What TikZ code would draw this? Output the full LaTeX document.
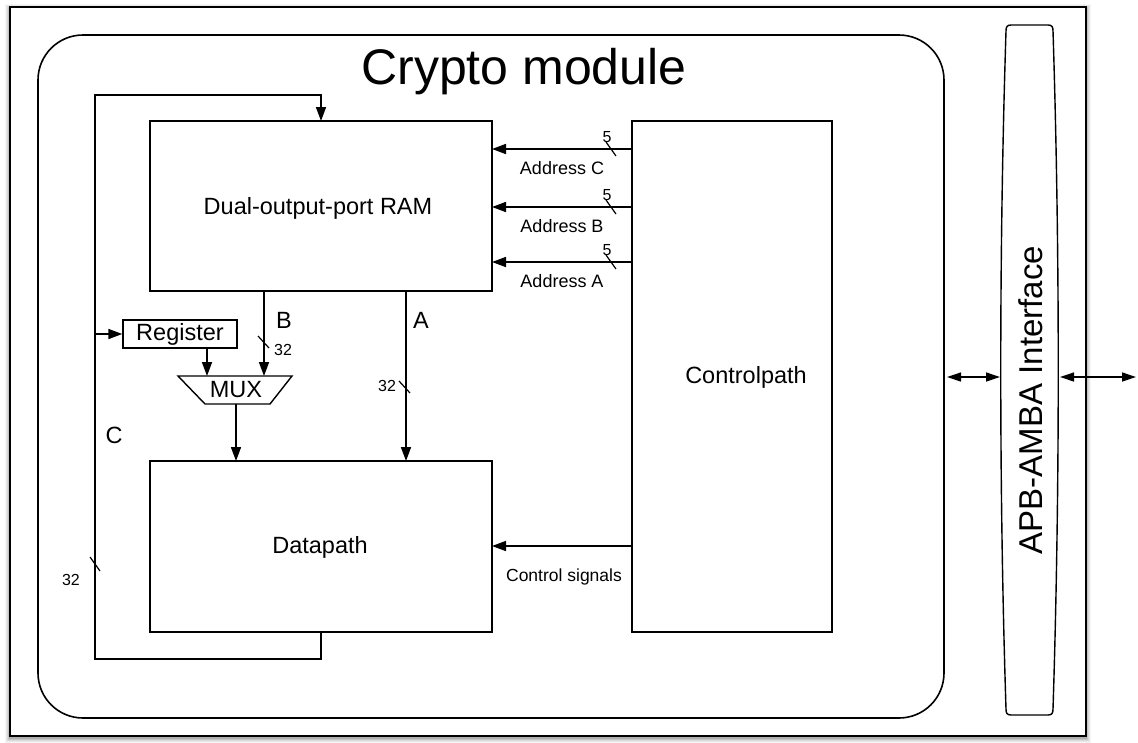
\documentclass[tikz,border=0pt]{standalone}
\usepackage{fontspec}
\setmainfont{Liberation Sans}
\usetikzlibrary{arrows.meta,calc}
\begin{document}
\begin{tikzpicture}[x=1pt,y=-1pt,
  line width=1.6pt,
  tip/.style={-{Triangle[length=14pt,width=10pt]}},
  dtip/.style={{Triangle[length=14pt,width=9pt]}-{Triangle[length=14pt,width=9pt]}},
  lbl/.style={font=\fontsize{23.5}{26}\selectfont,inner sep=0pt},
  slbl/.style={font=\fontsize{18}{20}\selectfont,inner sep=0pt},
  nlbl/.style={font=\fontsize{16}{18}\selectfont,inner sep=0pt}]
\useasboundingbox (0,0) rectangle (1138,742);
% outer frame shadow
\foreach \o/\op in {5/0.04,4/0.05,3/0.07,2/0.09,1/0.11}{
  \fill[black,opacity=\op] (10-\o,7-\o+2) rectangle (1086+\o,736+\o+2);
}
\draw[fill=white,line width=1.4pt] (10,7) rectangle (1086,736);
% crypto module rounded box
\draw[rounded corners=45pt] (38,35) rectangle (944,718);
\node[font=\fontsize{50}{54}\selectfont,inner sep=0pt] (title) at (524,72) {Crypto module};
% blocks
\draw (150,121) rectangle (492,291);
\node[lbl] (ram) at (318,208) {Dual-output-port RAM};
\draw (632,121) rectangle (832,632);
\node[lbl] (ctrl) at (746,377) {Controlpath};
\draw (150,461) rectangle (492,632);
\node[lbl] (dp) at (320,547) {Datapath};
% address arrows
\foreach \y/\t in {149/C,207/B,262/A}{
  \coordinate (s\t) at (632,\y);
  \coordinate (e\t) at (492,\y);
  \draw[tip] (s\t) -- (e\t);
  \draw[line width=1.2pt] (606,\y-7) -- (616,\y+7);
  \node[nlbl] (n\t) at (607,\y-12) {5};
  \node[slbl] (a\t) at (562,\y+19) {Address \t};
}
% control signals
\coordinate (cs) at (632,546);
\coordinate (ce) at (492,546);
\draw[tip] (cs) -- (ce);
\node[font=\fontsize{17.5}{20}\selectfont,inner sep=0pt] (csl) at (564,577) {Control signals};
% register and mux
\node[draw,line width=1.4pt,minimum width=114pt,minimum height=28pt,inner sep=0pt,lbl] (reg) at (180,334) {Register};
\draw[line width=1.4pt] (178,376) -- (292,376) -- (270,404) -- (205,404) -- cycle;
\node[lbl] (mux) at (236,390) {MUX};
\coordinate (muxT) at (264,376);
\coordinate (muxT2) at (207,376);
\coordinate (muxB) at (236,404);
% B line
\coordinate (bs) at (264,291);
\draw[tip] (bs) -- (muxT);
\draw[line width=1.2pt] (258,336) -- (269,348);
\node[lbl] (bl) at (284,320) {B};
\node[nlbl] (b32) at (283,350) {32};
\draw[tip] (reg.south -| muxT2) -- (muxT2);
% A line
\coordinate (as) at (406,291);
\coordinate (ae) at (406,461);
\draw[tip] (as) -- (ae);
\draw[line width=1.2pt] (399,381) -- (410,393);
\node[lbl] (al) at (421,320) {A};
\node[nlbl] (a32) at (387,386) {32};
% mux to datapath
\coordinate (de) at (236,461);
\draw[tip] (muxB) -- (de);
% C loop
\coordinate (c0) at (321,632);
\coordinate (c1) at (321,659);
\coordinate (c2) at (95,659);
\coordinate (c3) at (95,95);
\coordinate (c4) at (321,95);
\coordinate (c5) at (321,121);
\draw[tip] (c0) -- (c1) -- (c2) -- (c3) -- (c4) -- (c5);
\coordinate (cb) at (95,334);
\draw[tip] (cb) -- (reg.west);
\draw[line width=1.2pt] (90,557) -- (100,571);
\node[lbl] (cl) at (114,435) {C};
\node[nlbl] (c32) at (71,580) {32};
% APB interface
\draw[line width=1.4pt] (1011,25) -- (1048,25)
  .. controls (1052,25) and (1053,27) .. (1053,31)
  .. controls (1060,250) and (1060,490) .. (1053,709)
  .. controls (1053,713) and (1052,715) .. (1048,715)
  -- (1011,715)
  .. controls (1007,715) and (1006,713) .. (1006,709)
  .. controls (999,490) and (999,250) .. (1006,31)
  .. controls (1006,27) and (1007,25) .. (1011,25) -- cycle;
\node[rotate=90,inner sep=0pt,font=\fontsize{33}{36}\selectfont] (apb) at (1031,400) {APB-AMBA Interface};
\coordinate (l1) at (947,377);
\coordinate (l2) at (1000,377);
\coordinate (r1) at (1060,377);
\coordinate (r2) at (1136,377);
\draw[dtip,line width=1.3pt] (l1) -- (l2);
\draw[dtip,line width=1.3pt] (r1) -- (r2);
\end{tikzpicture}
\end{document}
